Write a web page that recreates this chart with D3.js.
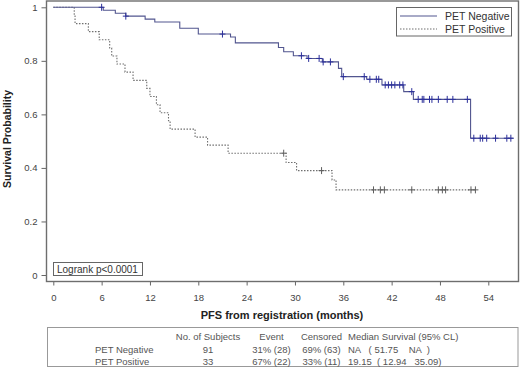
<!DOCTYPE html>
<html>
<head>
<meta charset="utf-8">
<script src="https://d3js.org/d3.v7.min.js"></script>
<style>
    body { margin: 0; background: #fff; }
    text { font-family: "Liberation Sans", Arial, sans-serif; }
</style>
</head>
<body>
<script type="text/javascript">

let width = 520,
    height = 368;

// plot frame
let frame = {left: 46.5, top: 1, right: 518.5, bottom: 281.5};

// ---- data ----
// PET Negative: step times (months) and survival after each step
let negTimes = [0, 6.2, 7.7, 9.0, 11.4, 12.6, 15.7, 18.0, 22.0, 22.6, 27.95, 28.6, 29.8, 31.5, 33.4, 35.4, 35.8, 38.9, 40.8, 43.5, 44.7, 51.8];
let negSurv  = [1, 0.989, 0.978, 0.967, 0.956, 0.945, 0.922, 0.900, 0.889, 0.867, 0.850, 0.834, 0.819, 0.809, 0.796, 0.772, 0.741, 0.731, 0.710, 0.685, 0.656, 0.511];
let negEnd = 57.1;
let negCensor = [6.0, 9.0, 21.0, 30.8, 31.7, 33.0, 33.5, 34.4, 36.0, 38.6, 39.3, 40.1, 40.4, 41.2, 41.6, 42.0, 42.4, 43.0, 43.4,
                 44.5, 45.3, 45.8, 46.0, 46.7, 47.0, 47.8, 48.9, 49.6, 51.4, 52.2, 53.0, 53.3, 53.8, 54.9, 56.3, 56.8];

// PET Positive
let posTimes = [0, 2.6, 2.7, 4.35, 5.7, 7.0, 7.25, 7.9, 8.9, 9.9, 11.6, 12.0, 12.8, 13.25, 14.3, 14.5, 17.6, 19.15, 21.7, 28.9, 30.2, 34.6, 35.1];
let posSurv  = [1, 0.970, 0.939, 0.909, 0.879, 0.848, 0.818, 0.788, 0.758, 0.727, 0.697, 0.667, 0.636, 0.606, 0.576, 0.545, 0.515, 0.485, 0.455, 0.420, 0.390, 0.355, 0.318];
let posEnd = 52.4;
let posCensor = [28.6, 33.3, 39.75, 40.6, 41.1, 44.5, 47.8, 48.3, 48.7, 51.85, 52.4];

let xTicks = [0, 6, 12, 18, 24, 30, 36, 42, 48, 54];
let yTicks = [0, 0.2, 0.4, 0.6, 0.8, 1];
let yTickLabels = ["0", "0.2", "0.4", "0.6", "0.8", "1"];

let groups = ["PET Negative", "PET Positive"];
let tableHeader = ["No. of Subjects", "Event", "Censored", "Median Survival (95% CL)"];
let tableRows = [
    ["PET Negative", "91", "31% (28)", "69% (63)", "NA   ( 51.75    NA  )"],
    ["PET Positive", "33", "67% (22)", "33% (11)", "19.15  ( 12.94   35.09)"]
];

let negColor = "#52568f",
    negMark = "#2b2f9a",
    posColor = "#6f6f6f",
    posMark = "#5f5f5f";

let svg = d3.select("body").append("svg")
    .attr("width", width)
    .attr("height", height);

let x = d3.scaleLinear().domain([0, 54]).range([53.3, 488.3]);
let y = d3.scaleLinear().domain([0, 1]).range([275, 7.3]);

function survAt(times, surv, t) {
    let i = d3.bisectRight(times, t) - 1;
    return surv[Math.max(i, 0)];
}

function drawCurve(times, surv, end, color, dash) {
    let pts = times.map((t, i) => [t, surv[i]]);
    pts.push([end, surv[surv.length - 1]]);
    let line = d3.line()
        .x(d => x(d[0]))
        .y(d => y(d[1]))
        .curve(d3.curveStepAfter);
    svg.append("path")
        .datum(pts)
        .attr("d", line)
        .attr("fill", "none")
        .attr("stroke", color)
        .attr("stroke-width", 1.1)
        .attr("stroke-dasharray", dash);
}

function drawCensor(times, surv, cens, color) {
    let g = svg.append("g").attr("stroke", color).attr("stroke-width", 1);
    g.selectAll("path")
        .data(cens)
        .join("path")
            .attr("d", t => {
                let cx = x(t), cy = y(survAt(times, surv, t));
                return `M${cx - 3},${cy}H${cx + 3}M${cx},${cy - 3.5}V${cy + 3.5}`;
            });
}

// axes
let xAxis = svg.append("g")
    .attr("transform", `translate(0,${frame.bottom})`)
    .call(d3.axisBottom(x).tickValues(xTicks).tickSize(4).tickPadding(8.5));
let yAxis = svg.append("g")
    .attr("transform", `translate(${frame.left},0)`)
    .call(d3.axisLeft(y).tickValues(yTicks).tickSize(5).tickPadding(4)
        .tickFormat((d, i) => yTickLabels[i]));
[xAxis, yAxis].forEach(a => {
    a.select(".domain").remove();
    a.selectAll("line").attr("stroke", "#666");
    a.selectAll("text").attr("fill", "#444").style("font-size", "9.5px")
        .style("font-family", "'Liberation Sans', Arial, sans-serif");
});

// frame
svg.append("rect")
    .attr("x", frame.left).attr("y", frame.top)
    .attr("width", frame.right - frame.left)
    .attr("height", frame.bottom - frame.top)
    .attr("fill", "none")
    .attr("stroke", "#6e6e6e")
    .attr("stroke-width", 1.4);

drawCurve(posTimes, posSurv, posEnd, posColor, "1.5,1.5");
drawCurve(negTimes, negSurv, negEnd, negColor, null);
drawCensor(posTimes, posSurv, posCensor, posMark);
drawCensor(negTimes, negSurv, negCensor, negMark);

// axis titles
svg.append("text")
    .attr("x", 282).attr("y", 319)
    .attr("text-anchor", "middle")
    .style("font-size", "11px").style("font-weight", "bold")
    .attr("fill", "#222")
    .text("PFS from registration (months)");
svg.append("text")
    .attr("transform", "translate(11,139) rotate(-90)")
    .attr("text-anchor", "middle")
    .style("font-size", "10.5px").style("font-weight", "bold")
    .attr("fill", "#222")
    .text("Survival Probability");

// legend
let legend = svg.append("g");
legend.append("rect")
    .attr("x", 396.5).attr("y", 7.5).attr("width", 115).attr("height", 28.5)
    .attr("fill", "#fff").attr("stroke", "#666");
groups.forEach((name, i) => {
    let ly = 16 + i * 13;
    legend.append("line")
        .attr("x1", 400).attr("x2", 437).attr("y1", ly).attr("y2", ly)
        .attr("stroke", i === 0 ? negColor : posColor)
        .attr("stroke-width", 1.1)
        .attr("stroke-dasharray", i === 0 ? null : "1.5,1.5");
    legend.append("text")
        .attr("x", 445).attr("y", ly + 3.7)
        .style("font-size", "10.5px").attr("fill", "#333")
        .text(name);
});

// logrank box
svg.append("rect")
    .attr("x", 53.5).attr("y", 262.5).attr("width", 89).attr("height", 13)
    .attr("fill", "#fff").attr("stroke", "#666");
svg.append("text")
    .attr("x", 57).attr("y", 272.5)
    .style("font-size", "10px").attr("fill", "#333")
    .text("Logrank p<0.0001");

// summary table
svg.append("rect")
    .attr("x", 47.5).attr("y", 327.5).attr("width", 470.5).attr("height", 39)
    .attr("fill", "none").attr("stroke", "#999");
let colX = [95, 208, 271.5, 321.5, 348];
let colAnchor = ["start", "middle", "middle", "middle", "start"];
let headerX = [208, 271.5, 321.5, 348];
let headerAnchor = ["middle", "middle", "middle", "start"];
tableHeader.forEach((h, i) => {
    svg.append("text")
        .attr("x", headerX[i]).attr("y", 339.5)
        .attr("text-anchor", headerAnchor[i])
        .style("font-size", "9.5px").attr("fill", "#555")
        .text(h);
});
tableRows.forEach((row, r) => {
    row.forEach((cell, c) => {
        svg.append("text")
            .attr("x", colX[c]).attr("y", 352.5 + r * 12)
            .attr("text-anchor", colAnchor[c])
            .style("white-space", "pre")
            .style("font-size", "9.5px").attr("fill", "#555")
            .text(cell);
    });
});

</script>
</body>
</html>
